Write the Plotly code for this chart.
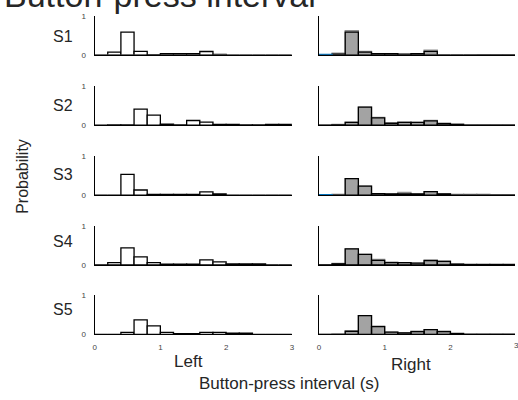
import plotly.graph_objects as go

W, H = 518, 400

BIN_CENTERS = [0.1, 0.3, 0.5, 0.7, 0.9, 1.1, 1.3, 1.5, 1.7, 1.9, 2.1, 2.3, 2.5, 2.7, 2.9]
SUBJECTS = ["S1", "S2", "S3", "S4", "S5"]

LEFT = {
    "S1": [0, 0.07, 0.58, 0.09, 0.005, 0.03, 0.03, 0.03, 0.085, 0.01, 0, 0, 0, 0, 0],
    "S2": [0, 0.01, 0.01, 0.41, 0.26, 0.03, 0.01, 0.12, 0.08, 0.02, 0.02, 0.01, 0.01, 0.02, 0.02],
    "S3": [0, 0, 0.53, 0.13, 0.02, 0.02, 0.02, 0.02, 0.08, 0.03, 0, 0, 0, 0, 0],
    "S4": [0, 0.06, 0.44, 0.21, 0.06, 0.02, 0.02, 0.02, 0.13, 0.08, 0.03, 0.03, 0.03, 0, 0],
    "S5": [0, 0, 0.05, 0.37, 0.22, 0.05, 0.02, 0.02, 0.05, 0.05, 0.03, 0.03, 0, 0, 0],
}
RIGHT_GRAY = {
    "S1": [0, 0.04, 0.62, 0.09, 0.02, 0.02, 0.01, 0.02, 0.12, 0, 0, 0, 0.005, 0.005, 0.005],
    "S2": [0, 0.02, 0.08, 0.46, 0.2, 0.05, 0.08, 0.07, 0.12, 0.05, 0.03, 0.01, 0.01, 0.01, 0.01],
    "S3": [0, 0.02, 0.42, 0.23, 0.04, 0.03, 0.07, 0.03, 0.09, 0.04, 0.02, 0.02, 0.02, 0.01, 0.01],
    "S4": [0, 0.04, 0.41, 0.27, 0.14, 0.07, 0.06, 0.05, 0.13, 0.1, 0.03, 0.02, 0.02, 0.02, 0.02],
    "S5": [0, 0.01, 0.08, 0.48, 0.21, 0.06, 0.04, 0.08, 0.12, 0.08, 0.03, 0.01, 0.01, 0.01, 0.01],
}
RIGHT_BLACK = {
    "S1": [0, 0.02, 0.58, 0.07, 0.03, 0.03, 0.02, 0.03, 0.09, 0, 0, 0, 0, 0, 0],
    "S2": [0, 0.01, 0.07, 0.46, 0.19, 0.05, 0.07, 0.07, 0.11, 0.04, 0.02, 0, 0, 0, 0],
    "S3": [0, 0, 0.42, 0.23, 0.04, 0.03, 0.03, 0.03, 0.09, 0.03, 0, 0, 0, 0, 0],
    "S4": [0, 0.03, 0.41, 0.27, 0.12, 0.06, 0.06, 0.05, 0.11, 0.09, 0.02, 0.01, 0.01, 0.01, 0.01],
    "S5": [0, 0, 0.08, 0.48, 0.2, 0.06, 0.04, 0.07, 0.12, 0.07, 0.02, 0, 0, 0, 0],
}
RIGHT_BLUE = {"S1": 0.006, "S2": 0, "S3": 0.008, "S4": 0, "S5": 0}

X_TICKS = [0, 1, 2, 3]
Y_TICKS = [0, 1]

# layout (pixels)
BASE = [52, 124, 195.5, 267, 338]
LABEL_Y = [33, 104, 174, 243, 313]
PANEL_H = 40
LEFT_X0, UNIT = 93.5, 66.4
RIGHT_X0 = 320

fig = go.Figure()
TXT = "#262626"
FONT = "Arial, Liberation Sans, sans-serif"

for i, s in enumerate(SUBJECTS):
    yd = [1 - BASE[i] / H, 1 - (BASE[i] - PANEL_H) / H]
    for side in range(2):
        n = i * 2 + side + 1
        xa = "x" if n == 1 else f"x{n}"
        ya = "y" if n == 1 else f"y{n}"
        xk = "xaxis" if n == 1 else f"xaxis{n}"
        yk = "yaxis" if n == 1 else f"yaxis{n}"
        if side == 0:
            fig.add_trace(go.Bar(x=BIN_CENTERS, y=LEFT[s], width=0.2, xaxis=xa, yaxis=ya,
                                 marker=dict(color="white", line=dict(color="black", width=1.3))))
            xd = [LEFT_X0 / W, (LEFT_X0 + 3 * UNIT) / W]
            xr = [0, 3]
        else:
            fig.add_trace(go.Bar(x=BIN_CENTERS, y=RIGHT_GRAY[s], width=0.2, xaxis=xa, yaxis=ya,
                                 marker=dict(color="#a3a3a3", line=dict(color="#8f8f8f", width=1.3))))
            fig.add_trace(go.Bar(x=BIN_CENTERS, y=RIGHT_BLACK[s], width=0.2, xaxis=xa, yaxis=ya,
                                 marker=dict(color="rgba(0,0,0,0)", line=dict(color="black", width=1.3))))
            if RIGHT_BLUE[s] > 0:
                fig.add_trace(go.Bar(x=[BIN_CENTERS[0]], y=[RIGHT_BLUE[s]], width=0.2, xaxis=xa, yaxis=ya,
                                     marker=dict(color="#0072BD", line=dict(color="#0072BD", width=1.5))))
            xd = [RIGHT_X0 / W, 1]
            xr = [0, (W - RIGHT_X0) / UNIT]
        fig.layout[xk] = dict(domain=xd, range=xr, anchor=ya, showline=True, linecolor="black",
                              linewidth=1.3, showgrid=False, zeroline=False, ticks="",
                              tickvals=X_TICKS, showticklabels=(i == 4), ticklabelstandoff=5,
                              tickfont=dict(size=8, color="#444", family=FONT), fixedrange=True)
        fig.layout[yk] = dict(domain=yd, range=[0, 1], anchor=xa, showline=True, linecolor="black",
                              linewidth=1.3, showgrid=False, zeroline=False, ticks="",
                              tickvals=Y_TICKS, showticklabels=(side == 0), ticklabelstandoff=6,
                              tickfont=dict(size=8, color="#444", family=FONT), fixedrange=True)
    fig.add_annotation(text=s, xref="paper", yref="paper", x=62 / W, y=1 - LABEL_Y[i] / H,
                       xanchor="center", yanchor="middle",
                       showarrow=False, font=dict(size=16, color=TXT, family=FONT))

ann = [
    dict(text="Button-press interval", x=0, y=1 - 12 / H, xanchor="left", yanchor="bottom", size=34),
    dict(text="Probability", x=20 / W, y=1 - 176 / H, xanchor="center", yanchor="middle", size=16, angle=-90),
    dict(text="Left", x=188 / W, y=1 - 366 / H, xanchor="center", yanchor="middle", size=17),
    dict(text="Right", x=413 / W, y=1 - 369 / H, xanchor="center", yanchor="middle", size=17),
    dict(text="Button-press interval (s)", x=290 / W, y=1 - 388 / H, xanchor="center", yanchor="middle", size=17),
    dict(text="3", x=519.5 / W, y=1 - 349 / H, xanchor="center", yanchor="middle", size=8, color="#444"),
]
for a in ann:
    fig.add_annotation(text=a["text"], xref="paper", yref="paper", x=a["x"], y=a["y"],
                       xanchor=a["xanchor"], yanchor=a["yanchor"], showarrow=False,
                       textangle=a.get("angle", 0),
                       font=dict(size=a["size"], color=a.get("color", TXT), family=FONT))

fig.update_layout(width=W, height=H, margin=dict(l=0, r=0, t=0, b=0), barmode="overlay",
                  showlegend=False, plot_bgcolor="white", paper_bgcolor="white",
                  font=dict(family=FONT))
fig.write_html("out.html", config={"displayModeBar": False})
